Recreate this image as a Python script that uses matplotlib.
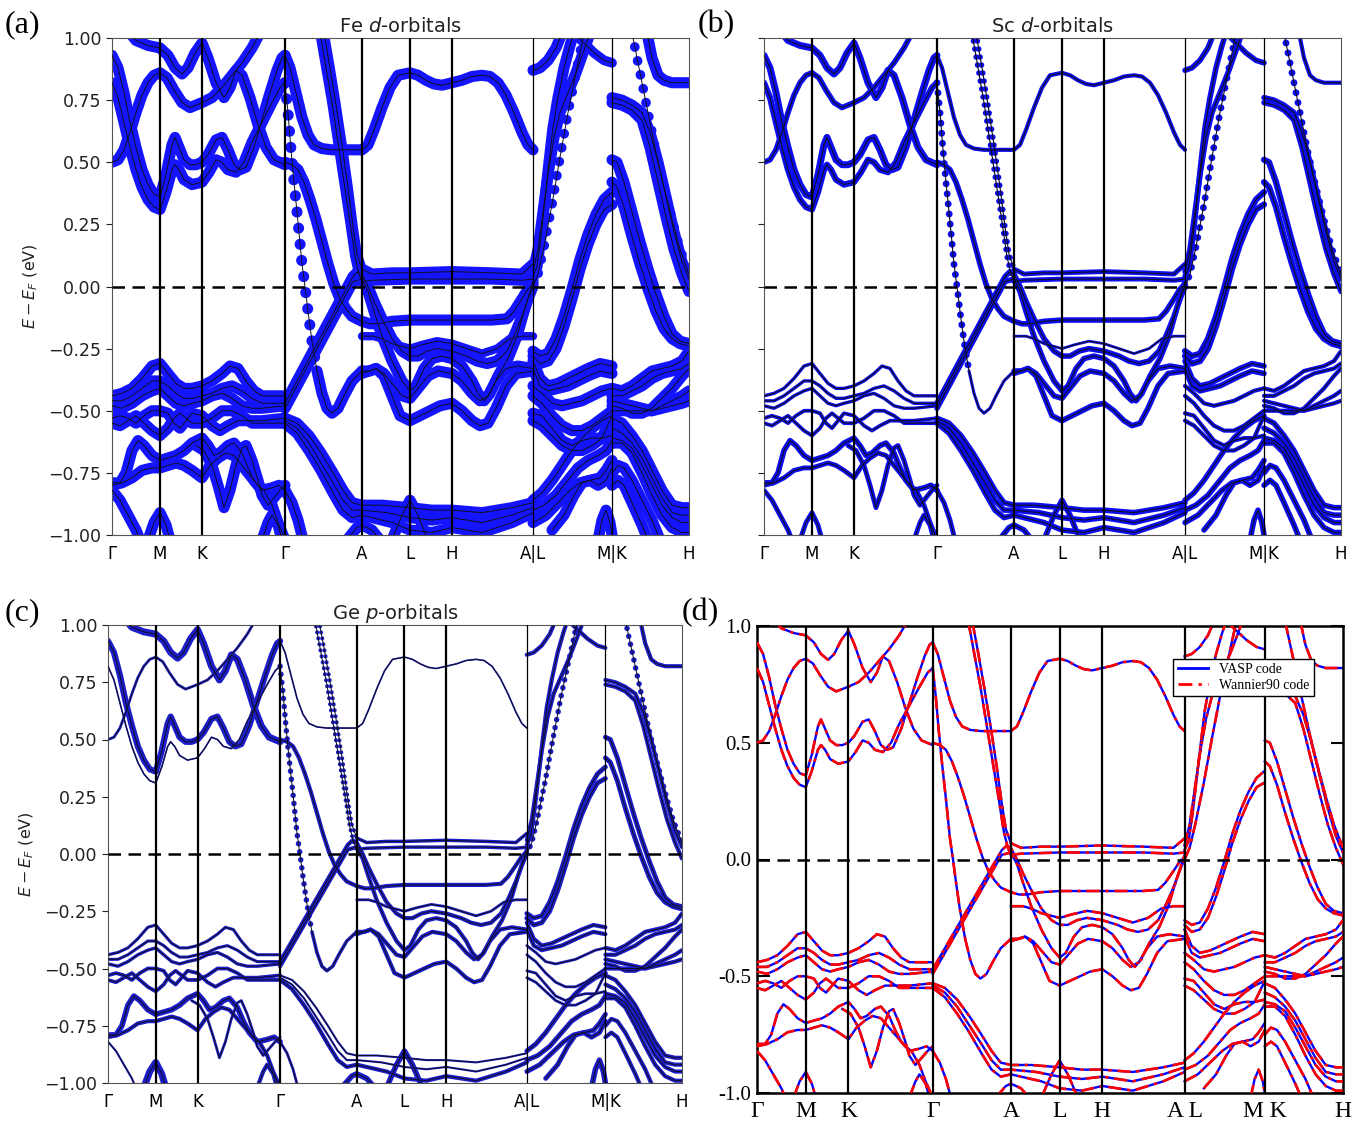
import numpy as np
import matplotlib
matplotlib.use('Agg')
import matplotlib.pyplot as plt
from matplotlib.lines import Line2D

# ---------------- high-symmetry path ----------------
kpts = [0, 48, 90, 173, 250, 298, 340, 421, 500, 577]
klabels = ['Γ', 'M', 'K', 'Γ', 'A', 'L', 'H', 'A|L', 'M|K', 'H']
klabels_d = ['Γ', 'M', 'K', 'Γ', 'A', 'L', 'H', 'A L', 'M K', 'H']
thin_lines = [421, 500]

# ---------------- bands (k, E-EF) ----------------
# Γ-M-K-Γ upper group
u1 = [(0,0.93),(6,0.88),(12,0.78),(18,0.66),(24,0.56),(30,0.47),(36,0.41),(42,0.37),(48,0.36),(54,0.45),(60,0.57),(63,0.60),(67,0.56),(72,0.51),(78,0.49),(84,0.49),(90,0.50),(96,0.53),(104,0.59),(110,0.60),(116,0.55),(122,0.49),(128,0.47),(134,0.48),(142,0.56),(150,0.67),(158,0.78),(165,0.87),(170,0.92),(173,0.93)]
u2 = [(0,0.82),(6,0.76),(12,0.66),(18,0.56),(24,0.47),(30,0.40),(36,0.35),(42,0.32),(48,0.31),(54,0.38),(60,0.47),(63,0.49),(67,0.47),(72,0.43),(80,0.41),(90,0.42),(97,0.46),(104,0.51),(110,0.50),(116,0.47),(124,0.46),(132,0.50),(140,0.58),(150,0.66),(160,0.74),(168,0.80),(173,0.82)]
u3 = [(0,0.50),(6,0.51),(12,0.55),(18,0.62),(24,0.70),(30,0.77),(36,0.82),(42,0.85),(48,0.86),(55,0.84),(62,0.79),(70,0.74),(78,0.72),(84,0.73),(90,0.74),(100,0.76),(110,0.80),(120,0.85),(130,0.90),(140,0.96),(148,1.02)]
u4 = [(18,1.02),(24,0.99),(36,0.97),(48,0.96),(56,0.93),(63,0.88),(70,0.855),(76,0.88),(83,0.94),(90,0.98),(96,0.92),(104,0.82),(112,0.76),(118,0.80),(124,0.87),(130,0.85),(138,0.76),(146,0.65),(154,0.56),(162,0.51),(173,0.49)]
# Γ-M-K-Γ lower groups
l1 = [(0,-0.44),(10,-0.43),(20,-0.41),(30,-0.37),(40,-0.32),(48,-0.31),(56,-0.35),(64,-0.39),(72,-0.41),(80,-0.41),(90,-0.40),(100,-0.38),(110,-0.35),(118,-0.32),(126,-0.33),(134,-0.38),(142,-0.42),(150,-0.44),(160,-0.44),(173,-0.44)]
l2 = [(0,-0.46),(10,-0.46),(20,-0.44),(30,-0.41),(40,-0.38),(48,-0.38),(56,-0.40),(64,-0.43),(72,-0.45),(80,-0.45),(90,-0.44),(100,-0.43),(110,-0.41),(120,-0.40),(130,-0.42),(140,-0.45),(150,-0.47),(160,-0.47),(173,-0.47)]
l3 = [(0,-0.48),(10,-0.49),(20,-0.47),(30,-0.44),(40,-0.42),(48,-0.41),(56,-0.44),(64,-0.47),(72,-0.48),(80,-0.47),(90,-0.46),(100,-0.44),(110,-0.43),(120,-0.45),(130,-0.48),(140,-0.49),(150,-0.49),(173,-0.48)]
l4 = [(0,-0.53),(8,-0.52),(16,-0.53),(24,-0.55),(32,-0.52),(40,-0.50),(48,-0.50),(56,-0.51),(62,-0.55),(68,-0.57),(74,-0.54),(80,-0.51),(90,-0.52),(100,-0.56),(108,-0.58),(116,-0.56),(126,-0.54),(136,-0.54),(150,-0.54),(173,-0.53)]
l5 = [(0,-0.55),(8,-0.56),(16,-0.54),(24,-0.52),(32,-0.55),(40,-0.58),(48,-0.60),(56,-0.57),(62,-0.53),(68,-0.51),(74,-0.53),(80,-0.55),(90,-0.55),(100,-0.53),(110,-0.50),(120,-0.50),(130,-0.52),(140,-0.55),(150,-0.55),(173,-0.55)]
m1 = [(0,-0.79),(8,-0.79),(14,-0.75),(20,-0.66),(26,-0.62),(32,-0.64),(40,-0.68),(48,-0.70),(56,-0.69),(64,-0.68),(72,-0.66),(80,-0.63),(90,-0.61),(96,-0.64),(102,-0.68),(108,-0.67),(116,-0.64),(122,-0.63),(130,-0.67),(136,-0.73),(142,-0.78),(150,-0.82),(160,-0.81),(167,-0.80),(173,-0.82)]
m2 = [(0,-0.80),(10,-0.79),(20,-0.77),(30,-0.74),(40,-0.73),(48,-0.73),(56,-0.72),(64,-0.71),(72,-0.72),(80,-0.74),(90,-0.77),(98,-0.72),(106,-0.69),(114,-0.67),(122,-0.68),(130,-0.72),(138,-0.76),(146,-0.80),(152,-0.82),(160,-0.88),(166,-0.95),(173,-1.02)]
m3 = [(84,-0.64),(92,-0.66),(100,-0.72),(106,-0.80),(112,-0.89),(118,-0.82),(124,-0.72),(130,-0.65),(134,-0.64),(140,-0.70),(146,-0.78),(150,-0.84),(156,-0.88),(162,-0.85),(168,-0.82),(173,-0.80)]
m4 = [(0,-0.82),(8,-0.86),(16,-0.92),(24,-0.98),(28,-1.02)]
m5 = [(36,-1.02),(42,-0.95),(48,-0.91),(54,-0.96),(58,-1.02)]
m6 = [(150,-1.02),(156,-0.95),(160,-0.92),(166,-0.96),(170,-1.02)]
m7 = [(173,-0.82),(180,-0.87),(186,-0.94),(191,-1.02)]
m8 = [(235,-1.02),(245,-0.97),(250,-0.96),(260,-0.98),(268,-1.02)]
# Γ-A and A-L-H-A
t1 = [(173,0.93),(178,0.88),(184,0.78),(190,0.68),(196,0.61),(202,0.57),(210,0.555),(220,0.55),(235,0.55),(250,0.55),(256,0.57),(262,0.63),(270,0.72),(278,0.80),(286,0.85),(298,0.86),(306,0.85),(314,0.83),(322,0.815),(330,0.81),(340,0.82),(350,0.83),(360,0.845),(370,0.85),(378,0.845),(386,0.82),(394,0.77),(402,0.70),(410,0.62),(416,0.57),(421,0.55)]
t2s = [(173,0.82),(176,0.70),(179,0.55),(182,0.42),(186,0.26),(190,0.09),(193,0.0),(196,-0.10),(200,-0.22),(205,-0.34)]
t2r = [(205,-0.34),(210,-0.43),(215,-0.49),(220,-0.51),(226,-0.49),(232,-0.44),(240,-0.38),(250,-0.34)]
t3 = [(173,0.50),(180,0.49),(186,0.47),(192,0.42),(198,0.35),(204,0.27),(210,0.18),(216,0.09),(222,0.01),(228,-0.05),(234,-0.09),(240,-0.12),(250,-0.14),(258,-0.15),(266,-0.15),(280,-0.14),(298,-0.135),(340,-0.135),(380,-0.135),(395,-0.13),(402,-0.10),(410,-0.05),(416,-0.01),(421,0.01)]
t4 = [(208,1.02),(214,0.88),(220,0.74),(226,0.58),(232,0.42),(238,0.26),(243,0.12),(247,0.05),(250,0.02)]
t5 = [(212,1.02),(218,0.88),(224,0.73),(230,0.57),(236,0.40),(241,0.24),(245,0.13),(250,0.07)]
t6 = [(173,-0.47),(185,-0.38),(197,-0.29),(209,-0.20),(221,-0.11),(233,-0.02),(241,0.04),(246,0.06),(250,0.05),(256,0.0),(262,-0.06),(270,-0.13),(280,-0.21),(290,-0.26),(298,-0.28),(306,-0.28),(315,-0.26),(325,-0.25),(340,-0.26),(355,-0.28),(365,-0.30),(375,-0.31),(385,-0.30),(395,-0.26),(403,-0.19),(410,-0.12),(416,-0.05),(421,0.0)]
t7 = [(173,-0.49),(185,-0.40),(197,-0.31),(209,-0.22),(221,-0.13),(233,-0.04),(241,0.02),(250,0.03),(256,-0.02),(262,-0.10),(270,-0.20),(280,-0.30),(290,-0.38),(298,-0.42),(304,-0.40),(312,-0.33),(320,-0.29),(330,-0.28),(340,-0.29),(350,-0.32),(360,-0.38),(366,-0.43),(372,-0.46),(378,-0.43),(386,-0.36),(396,-0.29),(405,-0.20),(412,-0.10),(421,0.02)]
f1 = [(250,0.07),(260,0.05),(280,0.055),(298,0.055),(340,0.06),(380,0.055),(410,0.05),(421,0.09)]
f2 = [(250,0.02),(260,0.025),(298,0.03),(340,0.03),(380,0.03),(410,0.025),(421,0.03)]
g1 = [(173,-0.53),(185,-0.55),(197,-0.60),(209,-0.67),(221,-0.75),(231,-0.82),(240,-0.87),(250,-0.88),(270,-0.88),(298,-0.89),(320,-0.90),(340,-0.90),(370,-0.91),(400,-0.89),(421,-0.87)]
g2 = [(173,-0.54),(185,-0.57),(197,-0.63),(209,-0.71),(221,-0.79),(231,-0.86),(240,-0.90),(250,-0.90),(275,-0.91),(298,-0.93),(320,-0.94),(340,-0.93),(370,-0.95),(400,-0.92),(421,-0.89)]
g3 = [(173,-0.55),(185,-0.59),(197,-0.66),(209,-0.74),(221,-0.83),(231,-0.90),(240,-0.93),(250,-0.92),(280,-0.95),(298,-0.98),(320,-0.99),(340,-0.97),(370,-0.99),(400,-0.95),(421,-0.91)]
g4 = [(280,-1.02),(290,-0.92),(298,-0.86),(306,-0.92),(316,-1.02)]
a1 = [(250,-0.20),(262,-0.20),(270,-0.21),(280,-0.23),(298,-0.25),(310,-0.235),(325,-0.22),(340,-0.23),(355,-0.25),(370,-0.27),(385,-0.25),(398,-0.21),(410,-0.20),(421,-0.20)]
a2 = [(250,-0.34),(258,-0.34),(264,-0.33),(272,-0.36),(280,-0.44),(288,-0.52),(298,-0.54),(308,-0.52),(318,-0.50),(328,-0.48),(340,-0.47),(350,-0.50),(360,-0.54),(368,-0.56),(376,-0.55),(384,-0.49),(394,-0.40),(404,-0.35),(421,-0.34)]
a3 = [(250,-0.35),(264,-0.33),(272,-0.35),(282,-0.40),(290,-0.44),(298,-0.45),(306,-0.41),(316,-0.36),(326,-0.34),(340,-0.35),(350,-0.38),(360,-0.43),(368,-0.46),(376,-0.44),(384,-0.38),(394,-0.33),(406,-0.32),(421,-0.33)]
# L-M
p1 = [(421,0.04),(425,0.08),(429,0.20),(433,0.35),(437,0.50),(441,0.64),(446,0.76),(452,0.88),(458,0.97),(462,1.02)]
p2 = [(421,0.06),(426,0.15),(431,0.30),(436,0.45),(442,0.60),(448,0.70),(456,0.78),(464,0.86),(472,0.95),(478,1.02)]
p3 = [(421,0.00),(426,0.05),(432,0.16),(440,0.33),(448,0.52),(456,0.70),(464,0.86),(470,0.98),(472,1.02)]
p4 = [(421,0.87),(428,0.88),(436,0.91),(444,0.96),(450,1.02)]
q1 = [(462,1.02),(472,0.98),(482,0.94),(492,0.91),(500,0.90)]
r1 = [(421,-0.26),(428,-0.28),(436,-0.27),(444,-0.21),(452,-0.12),(460,-0.01),(468,0.11),(476,0.21),(484,0.29),(492,0.35),(500,0.38)]
r2 = [(421,-0.28),(428,-0.31),(436,-0.30),(444,-0.25),(452,-0.16),(460,-0.05),(468,0.07),(476,0.17),(484,0.25),(492,0.31),(500,0.33)]
r3 = [(421,-0.30),(428,-0.37),(436,-0.40),(446,-0.39),(456,-0.37),(466,-0.35),(476,-0.33),(488,-0.31),(500,-0.32)]
r4 = [(421,-0.33),(428,-0.40),(436,-0.42),(446,-0.41),(456,-0.40),(466,-0.38),(476,-0.36),(488,-0.34),(500,-0.35)]
r5 = [(421,-0.40),(430,-0.43),(440,-0.47),(450,-0.48),(460,-0.47),(470,-0.46),(480,-0.44),(490,-0.42),(500,-0.41)]
r6 = [(421,-0.44),(430,-0.47),(440,-0.52),(450,-0.56),(460,-0.58),(470,-0.58),(480,-0.56),(490,-0.53),(500,-0.50)]
r7 = [(421,-0.51),(430,-0.52),(440,-0.57),(450,-0.62),(460,-0.64),(470,-0.62),(480,-0.61),(490,-0.61),(500,-0.60)]
r8 = [(421,-0.54),(430,-0.56),(440,-0.60),(450,-0.64),(460,-0.66),(470,-0.66),(480,-0.64),(490,-0.61),(500,-0.52)]
r9 = [(421,-0.86),(430,-0.83),(440,-0.78),(450,-0.72),(460,-0.66),(470,-0.61),(480,-0.57),(490,-0.54),(500,-0.52)]
r10 = [(421,-0.90),(432,-0.88),(444,-0.84),(456,-0.78),(466,-0.73),(476,-0.70),(486,-0.68),(494,-0.66),(500,-0.62)]
r11 = [(421,-0.95),(434,-0.92),(446,-0.87),(458,-0.82),(468,-0.79),(478,-0.78),(488,-0.77),(494,-0.74),(500,-0.70)]
r12 = [(440,-0.98),(452,-0.92),(462,-0.84),(470,-0.79),(478,-0.78),(486,-0.80),(494,-0.78),(500,-0.73)]
r13 = [(486,-1.02),(490,-0.94),(494,-0.90),(498,-0.95),(500,-1.0)]
# K-H
s1 = [(535,1.02),(540,0.92),(546,0.85),(552,0.83),(560,0.82),(577,0.82)]
s2 = [(500,0.76),(510,0.75),(520,0.73),(530,0.70),(538,0.62),(546,0.50),(554,0.36),(562,0.22),(570,0.10),(577,0.03)]
s3 = [(500,0.74),(510,0.73),(520,0.71),(530,0.67),(538,0.56),(546,0.42),(554,0.28),(562,0.15),(570,0.05),(577,-0.02)]
s4 = [(500,0.51),(505,0.50),(512,0.42),(520,0.30),(528,0.18),(536,0.07),(544,-0.03),(552,-0.12),(560,-0.19),(568,-0.22),(577,-0.23)]
s5 = [(500,0.42),(505,0.40),(512,0.32),(520,0.20),(528,0.09),(536,-0.01),(544,-0.10),(552,-0.17),(560,-0.21),(568,-0.23),(577,-0.24)]
s6 = [(520,1.02),(528,0.86),(536,0.70),(544,0.54),(552,0.40),(560,0.27),(568,0.15),(577,0.05)]
s7 = [(500,-0.41),(510,-0.42),(520,-0.40),(530,-0.37),(540,-0.34),(550,-0.33),(560,-0.32),(570,-0.30),(577,-0.26)]
s8 = [(500,-0.44),(510,-0.44),(520,-0.42),(530,-0.40),(540,-0.37),(550,-0.35),(560,-0.34),(570,-0.33),(577,-0.31)]
s9 = [(500,-0.46),(510,-0.47),(520,-0.48),(530,-0.49),(540,-0.50),(550,-0.48),(560,-0.46),(570,-0.44),(577,-0.42)]
s10 = [(500,-0.48),(510,-0.49),(520,-0.51),(530,-0.51),(540,-0.49),(550,-0.45),(560,-0.41),(570,-0.36),(577,-0.33)]
s11 = [(500,-0.50),(510,-0.50),(520,-0.50),(530,-0.50),(540,-0.50),(550,-0.49),(560,-0.48),(570,-0.47),(577,-0.46)]
s12 = [(500,-0.53),(510,-0.55),(520,-0.60),(530,-0.66),(540,-0.74),(550,-0.82),(560,-0.88),(570,-0.89),(577,-0.89)]
s13 = [(500,-0.57),(510,-0.59),(520,-0.63),(530,-0.69),(540,-0.77),(550,-0.85),(560,-0.91),(570,-0.92),(577,-0.92)]
s14 = [(500,-0.61),(510,-0.62),(520,-0.65),(530,-0.72),(540,-0.80),(550,-0.88),(560,-0.93),(570,-0.95),(577,-0.95)]
s15 = [(500,-0.63),(510,-0.63),(520,-0.67),(530,-0.75),(540,-0.84),(550,-0.92),(560,-0.97),(570,-0.99),(577,-0.99)]
s16 = [(500,-0.75),(506,-0.72),(512,-0.73),(520,-0.78),(530,-0.86),(540,-0.94),(548,-1.02)]
s17 = [(500,-0.80),(506,-0.78),(512,-0.80),(520,-0.87),(530,-0.96),(536,-1.02)]

bands = [u1,u2,u3,u4,l1,l2,l3,l4,l5,m1,m2,m3,m4,m5,m6,m7,m8,
         t1,t2s,t2r,t3,t4,t5,t6,t7,f1,f2,g1,g2,g3,g4,a1,a2,a3,
         p1,p2,p3,p4,q1,r1,r2,r3,r4,r5,r6,r7,r8,r9,r10,r11,r12,r13,
         s1,s2,s3,s4,s5,s6,s7,s8,s9,s10,s11,s12,s13,s14,s15,s16,s17]

# orbital weights (drawn as band thickness, pt) for Fe-d, Sc-d, Ge-p
w_fe = [8,8,8,8, 8,8,8,8,8, 8,8,8,8,8,8,8,8,
        8,8,8,8,7,7,8,8,8,8,8,8,8,8,6,8,8,
        8,8,7,8,7,8,8,8,8,8,8,8,8,8,8,8,8,8,
        8,8,8,8,8,7,8,8,8,8,8,8,8,8,8,8,8]
w_sc = [5,4.5,4,5, 2.4,2.4,2.4,2.7,2.7, 4,3.5,3.5,3.5,3.5,3.5,3.5,4,
        3,5,2.2,4,4,4,4,4,3.5,3.5,4,4,4,4,2,4,4,
        4,4,5,4,4,4.5,4.5,4,4,3,3,3,3,4,4,4,4,4,
        3,4,4,4.5,4.5,5,3,3,3,3,3,4,4,4,4,4,4]
w_ge = [4.5,1.2,2,5, 2.2,2.2,2.4,2.7,2.7, 4,3,2,1.5,5,3,2,4,
        1.2,4,2.5,3,3,3,3,3,2.5,2.5,1.5,1.5,3,4,2,3,3,
        3,3,4,3,3,3.5,3.5,3,3,2,2,2,2,3.5,3.5,3.5,3.5,4,
        3,3,3,3.5,3.5,4,3,3,3,3,3,3,3,3,3,3,3]
dot_fe = {'t2s', 'p3', 's6'}
dot_sc = {'t2s', 't4', 't5', 'p3', 's6'}
dot_ge = {'t2s', 't4', 't5', 'p3', 's6'}
band_names = ['u1','u2','u3','u4','l1','l2','l3','l4','l5','m1','m2','m3','m4','m5','m6','m7','m8',
              't1','t2s','t2r','t3','t4','t5','t6','t7','f1','f2','g1','g2','g3','g4','a1','a2','a3',
              'p1','p2','p3','p4','q1','r1','r2','r3','r4','r5','r6','r7','r8','r9','r10','r11','r12','r13',
              's1','s2','s3','s4','s5','s6','s7','s8','s9','s10','s11','s12','s13','s14','s15','s16','s17']

yticks_abc = [-1.0, -0.75, -0.5, -0.25, 0.0, 0.25, 0.5, 0.75, 1.0]
yticks_d = [-1.0, -0.5, 0.0, 0.5, 1.0]
yticklabels_d = ['-1.0', '-0.5', '0.0', '0.5', '1.0']

# ---------------- figure ----------------
W, H = 1367, 1125
fig = plt.figure(figsize=(W/100, H/100), dpi=100)
plt.rcParams['font.family'] = ['DejaVu Sans']

def rect(l, t, r, b):
    return [l/W, 1-b/H, (r-l)/W, (b-t)/H]

def fat_panel(ax, color, widths, dots, title, core_lw, ylabel=True):
    for name, pts, lw in zip(band_names, bands, widths):
        k = [p[0] for p in pts]
        e = [p[1] for p in pts]
        if name in dots:
            ax.plot(k, e, color=color, lw=lw, ls=(0, (0.01, 1.45)),
                    dash_capstyle='round', zorder=2)
        else:
            ax.plot(k, e, color=color, lw=lw, solid_capstyle='round',
                    solid_joinstyle='round', zorder=2)
        ax.plot(k, e, color='#101020', lw=core_lw, zorder=3)
    for kp in kpts[1:-1]:
        ax.axvline(kp, color='black', lw=0.9 if kp in thin_lines else 1.6, zorder=4)
    ax.axhline(0, color='black', lw=1.8, ls=(0, (5, 3)), zorder=5)
    ax.set_xlim(kpts[0], kpts[-1])
    ax.set_ylim(-1, 1)
    ax.set_xticks(kpts)
    ax.set_xticklabels(klabels)
    ax.set_yticks(yticks_abc)
    ax.set_yticklabels(['%.2f' % v if v >= 0 else '\u2212%.2f' % -v for v in yticks_abc])
    ax.tick_params(axis='x', length=0, labelsize=12, pad=7)
    ax.tick_params(axis='y', length=4, width=0.8, labelsize=12.5, colors='#222222')
    if not ylabel:
        ax.tick_params(axis='y', labelleft=False)
    else:
        ax.set_ylabel('$E-E_F$ (eV)', fontsize=11.5, color='#222222', labelpad=6)
    for sp in ax.spines.values():
        sp.set_linewidth(0.8)
        sp.set_color('#555555')
    ax.set_title(title, fontsize=14, pad=4, color='#222222')

ax_a = fig.add_axes(rect(112, 38, 689, 535))
fat_panel(ax_a, '#1414ff', w_fe, dot_fe, 'Fe $d$-orbitals', 0.7)
ax_b = fig.add_axes(rect(764, 38, 1341, 535))
fat_panel(ax_b, '#0c0cf0', w_sc, dot_sc, 'Sc $d$-orbitals', 0.8, ylabel=False)
ax_c = fig.add_axes(rect(108, 625, 682, 1083))
fat_panel(ax_c, '#1c1cc8', w_ge, dot_ge, 'Ge $p$-orbitals', 0.7)

# panel (d)
ax_d = fig.add_axes(rect(757, 626, 1343, 1093))
for pts in bands:
    k = [p[0] for p in pts]
    e = [p[1] for p in pts]
    ax_d.plot(k, e, color='#0000ff', lw=1.7, zorder=2)
    ax_d.plot(k, e, color='#ff0000', lw=1.9, dashes=(5, 2.2, 1.2, 2.2), zorder=3)
for kp in kpts[1:-1]:
    ax_d.axvline(kp, color='black', lw=1.6, zorder=4)
ax_d.axhline(0, color='black', lw=1.8, ls=(0, (5, 3)), zorder=5)
ax_d.set_xlim(kpts[0], kpts[-1])
ax_d.set_ylim(-1, 1)
ax_d.set_xticks(kpts)
ax_d.set_xticklabels(klabels_d, family='Liberation Serif', fontsize=17)
ax_d.set_yticks(yticks_d)
ax_d.set_yticklabels(yticklabels_d, family='Liberation Serif', fontsize=15)
ax_d.tick_params(axis='x', length=0, pad=6)
ax_d.tick_params(axis='y', direction='in', length=9, width=1.5, right=True, pad=4)
for sp in ax_d.spines.values():
    sp.set_linewidth(1.8)
handles = [Line2D([], [], color='#0000ff', lw=2),
           Line2D([], [], color='#ff0000', lw=2, dashes=(5, 2.2, 1.2, 2.2))]
leg = ax_d.legend(handles, ['VASP code', 'Wannier90 code'], loc='upper right',
                  bbox_to_anchor=(0.962, 0.945), prop={'family': 'Liberation Serif', 'size': 10},
                  fancybox=False, edgecolor='black', framealpha=1, handlelength=2.2,
                  borderpad=0.3, labelspacing=0.2)
leg.get_frame().set_linewidth(1.0)
leg.set_zorder(10)

# panel letters
for x, y, s in [(5, 32, '(a)'), (698, 32, '(b)'), (5, 620, '(c)'), (682, 620, '(d)')]:
    fig.text(x/W, 1-y/H, s, family='Liberation Serif', fontsize=23, ha='left', va='baseline')

fig.savefig('out.png', dpi=100)
